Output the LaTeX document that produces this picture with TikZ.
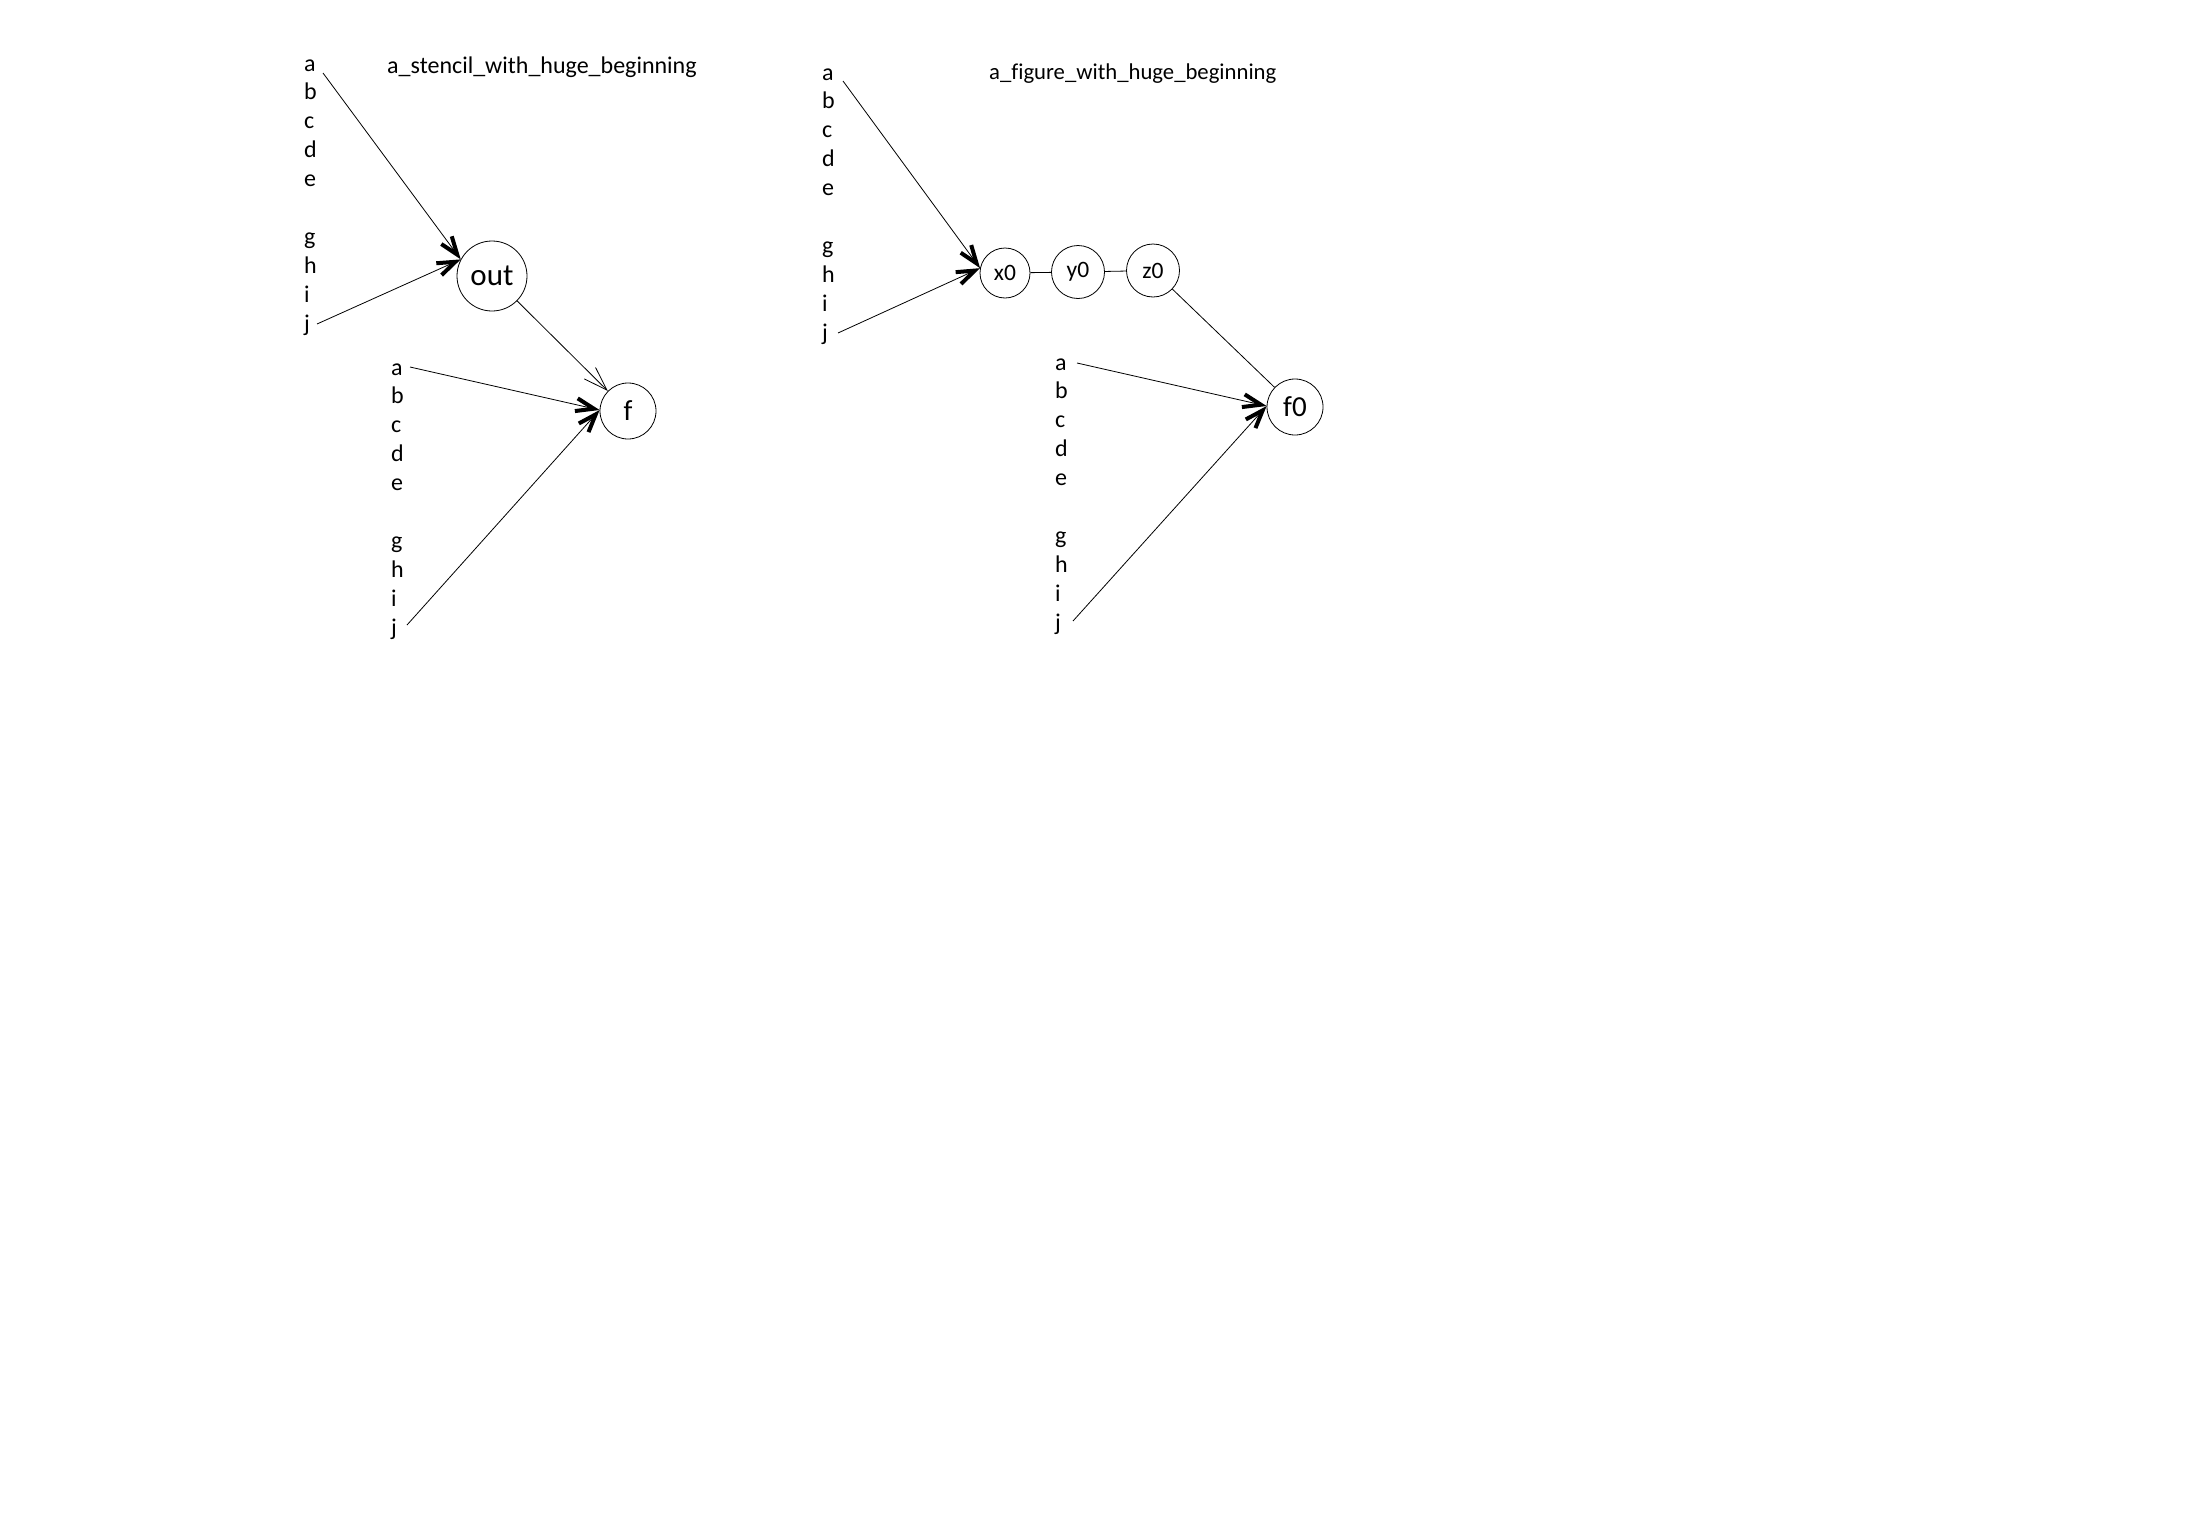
\documentclass[tikz,border=0pt]{standalone}
\usepackage{fontspec}
\setmainfont{Carlito}[Ligatures=NoCommon]
\usetikzlibrary{arrows.meta}
\begin{document}
\begin{tikzpicture}[x=1pt,y=-1pt,
  lbl/.style={anchor=base west,inner sep=0pt,font=\fontsize{24}{29}\selectfont},
  ttl/.style={anchor=base west,inner sep=0pt},
  circ/.style={circle,draw,line width=0.8pt,inner sep=0pt},
  conn/.style={line width=0.8pt},
  fat/.style={conn,-{Straight Barb[length=18pt,width=13pt,line width=4pt]}},
  thinarrow/.style={conn,-{Straight Barb[length=24pt,width=16pt,line width=0.8pt]}},
]
\useasboundingbox (0,0) rectangle (2197,1523);
\fill[white] (0,0) rectangle (2197,1523);

% letter columns
\foreach \gx/\gy/\g in {304/71/A,391/375/B,822/80/C,1055/370/D}{
  \foreach \l/\k in {a/0,b/1,c/2,d/3,e/4,g/6,h/7,i/8,j/9}{
    \node[lbl] (\g\l) at (\gx,{\gy+\k*28.9}) {\l};
  }
}

% titles
\node[ttl,font=\fontsize{24}{29}\selectfont] (t1) at (387,73) {a\_stencil\_with\_huge\_beginning};
\node[ttl,font=\fontsize{22.7}{27}\selectfont] (t2) at (989,79) {a\_figure\_with\_huge\_beginning};

% circles
\node[circ,minimum size=70pt,font=\fontsize{31}{31}\selectfont] (out) at (492,276) {out};
\node[circ,minimum size=56pt,font=\fontsize{29}{29}\selectfont] (f) at (628,411) {f};
\node[circ,minimum size=50pt,font=\fontsize{23.5}{23.5}\selectfont] (x0) at (1005,273) {x0};
\node[circ,minimum size=53pt,font=\fontsize{23.5}{23.5}\selectfont] (y0) at (1078,272) {y0};
\node[circ,minimum size=53pt,font=\fontsize{23.5}{23.5}\selectfont] (z0) at (1153,270.5) {z0};
\node[circ,minimum size=56pt,font=\fontsize{29}{29}\selectfont] (f0) at (1295,407) {f0};

% arrow start points
\coordinate (sAa) at (323,73);
\coordinate (sAj) at (317,324);
\coordinate (sBa) at (410,367);
\coordinate (sBj) at (407,625);
\coordinate (sCa) at (843,81);
\coordinate (sCj) at (838,333);
\coordinate (sDa) at (1077,363);
\coordinate (sDj) at (1073,621);

% connectors
\draw[fat] (sAa) -- (out.152);
\draw[fat] (sAj) -- (out.152);
\draw[thinarrow] (out) -- (f);
\draw[fat] (sBa) -- (f.178);
\draw[fat] (sBj) -- (f.178);
\draw[fat] (sCa) -- (x0.169);
\draw[fat] (sCj) -- (x0.169);
\draw[conn] (x0) -- (y0);
\draw[conn] (y0) -- (z0);
\draw[conn] (z0) -- (f0);
\draw[fat] (sDa) -- (f0.178);
\draw[fat] (sDj) -- (f0.178);
\end{tikzpicture}
\end{document}
